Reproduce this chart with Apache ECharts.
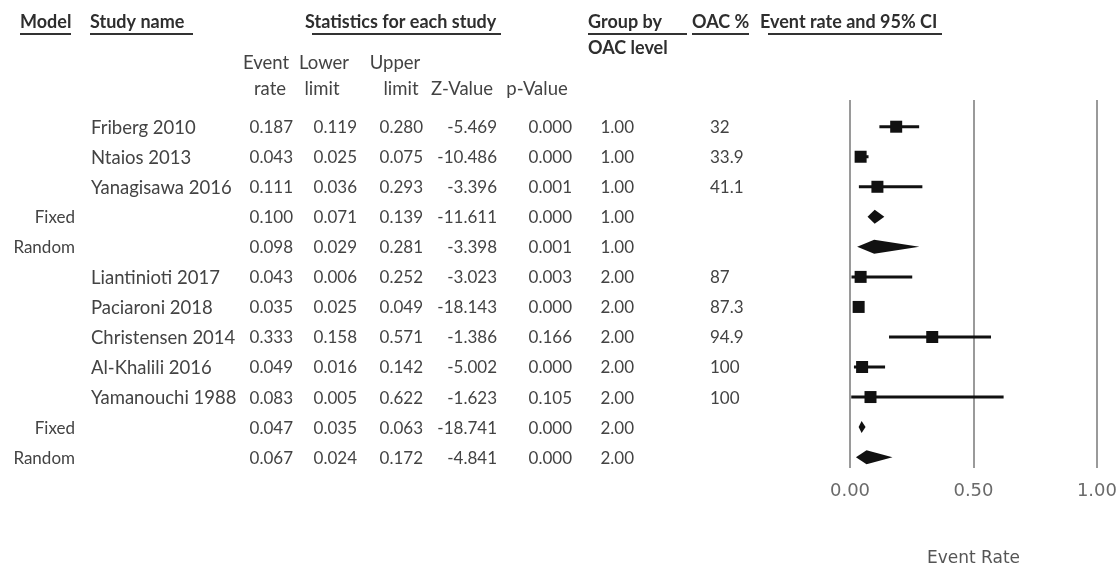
<!DOCTYPE html>
<html>
<head>
<meta charset="utf-8">
<script src="https://cdn.jsdelivr.net/npm/echarts@6/dist/echarts.min.js"></script>
<style>
html, body { margin: 0; padding: 0; background: #fff; }
#main { width: 1120px; height: 572px; }
</style>
</head>
<body>
<div id="main"></div>
<script>
// data
var models     = ['', '', '', 'Fixed', 'Random', '', '', '', '', '', 'Fixed', 'Random'];
var studies    = ['Friberg 2010', 'Ntaios 2013', 'Yanagisawa 2016', '', '', 'Liantinioti 2017', 'Paciaroni 2018',
                  'Christensen 2014', 'Al-Khalili 2016', 'Yamanouchi 1988', '', ''];
var eventRate  = [0.187, 0.043, 0.111, 0.100, 0.098, 0.043, 0.035, 0.333, 0.049, 0.083, 0.047, 0.067];
var lowerLimit = [0.119, 0.025, 0.036, 0.071, 0.029, 0.006, 0.025, 0.158, 0.016, 0.005, 0.035, 0.024];
var upperLimit = [0.280, 0.075, 0.293, 0.139, 0.281, 0.252, 0.049, 0.571, 0.142, 0.622, 0.063, 0.172];
var zValue     = [-5.469, -10.486, -3.396, -11.611, -3.398, -3.023, -18.143, -1.386, -5.002, -1.623, -18.741, -4.841];
var pValue     = [0.000, 0.000, 0.001, 0.000, 0.001, 0.003, 0.000, 0.166, 0.000, 0.105, 0.000, 0.000];
var oacLevel   = [1, 1, 1, 1, 1, 2, 2, 2, 2, 2, 2, 2];
var oacPct     = ['32', '33.9', '41.1', '', '', '87', '87.3', '94.9', '100', '100', '', ''];
var xTicks     = [0, 0.5, 1];

var FONT = 'Lato';
var TXT = '#434343';

// table columns: [x, align, font size]
var cols = {
  model: [75, 'right', 17], study: [91, 'left', 18.5], rate: [293, 'right', 17], lower: [357, 'right', 17],
  upper: [423, 'right', 17], z: [497, 'right', 17], p: [572, 'right', 17], group: [634, 'right', 17],
  oac: [710, 'left', 17]
};

var rows = [];
for (var i = 0; i < eventRate.length; i++) {
  rows.push([i, eventRate[i], lowerLimit[i], upperLimit[i]]);
}

function cell(col, text, y) {
  return {
    type: 'text',
    style: { x: cols[col][0], y: y, text: text, align: cols[col][1], verticalAlign: 'middle',
             font: cols[col][2] + 'px ' + FONT, fill: TXT }
  };
}

// header texts and underlines
var headers = [
  { t: 'Model', x: 20, y: 22, a: 'left', b: true, u: [20, 71] },
  { t: 'Study name', x: 90, y: 22, a: 'left', b: true, u: [90, 193] },
  { t: 'Statistics for each study', x: 305, y: 22, a: 'left', b: true, u: [312, 501] },
  { t: 'Group by', x: 588, y: 22, a: 'left', b: true, u: [588, 687] },
  { t: 'OAC level', x: 588, y: 48, a: 'left', b: true },
  { t: 'OAC %', x: 692, y: 22, a: 'left', b: true, u: [692, 749] },
  { t: 'Event rate and 95% CI', x: 760, y: 22, a: 'left', b: true, u: [768, 942] },
  { t: 'Event', x: 266, y: 63, a: 'center' },
  { t: 'Lower', x: 324, y: 63, a: 'center' },
  { t: 'Upper', x: 395, y: 63, a: 'center' },
  { t: 'rate', x: 270, y: 89, a: 'center' },
  { t: 'limit', x: 322, y: 89, a: 'center' },
  { t: 'limit', x: 401, y: 89, a: 'center' },
  { t: 'Z-Value', x: 462, y: 89, a: 'center' },
  { t: 'p-Value', x: 537, y: 89, a: 'center' }
];
var graphics = [];
headers.forEach(function (h) {
  graphics.push({
    type: 'text',
    style: { x: h.x, y: h.y, text: h.t, align: h.a, verticalAlign: 'middle',
             font: h.b ? 'bold 18px ' + FONT : '18.5px ' + FONT, fill: h.b ? '#2e2e2e' : TXT }
  });
  if (h.u) {
    graphics.push({ type: 'line', shape: { x1: h.u[0], y1: 34, x2: h.u[1], y2: 34 },
                    style: { stroke: '#333', lineWidth: 2 } });
  }
});

var chart = echarts.init(document.getElementById('main'));
chart.setOption({
  backgroundColor: '#fff',
  animation: false,
  graphic: graphics,
  grid: { left: 850, top: 100, width: 257, height: 372 },
  xAxis: {
    type: 'value', min: 0, max: 1, interval: 0.5,
    axisLine: { show: false }, axisTick: { show: false },
    splitLine: { show: true, lineStyle: { color: '#9a9a9a', width: 2 } },
    axisLabel: { margin: 14, color: '#6a6a6a', fontSize: 18, fontFamily: 'DejaVu Sans',
                 formatter: function (v) { return v.toFixed(2); } },
    name: 'Event Rate', nameLocation: 'middle', nameGap: 82,
    nameTextStyle: { color: '#555', fontSize: 17, fontFamily: 'DejaVu Sans' }
  },
  yAxis: {
    type: 'value', inverse: true, min: -0.889, max: 11.362, show: false
  },
  series: [
    {
      // table text, rows placed by the y axis
      type: 'custom', clip: false, silent: true,
      data: rows,
      renderItem: function (params, api) {
        var r = api.value(0);
        var y = api.coord([0, r])[1] + 1;
        return {
          type: 'group',
          children: [
            cell('model', models[r], y),
            cell('study', studies[r], y),
            cell('rate', eventRate[r].toFixed(3), y),
            cell('lower', lowerLimit[r].toFixed(3), y),
            cell('upper', upperLimit[r].toFixed(3), y),
            cell('z', zValue[r].toFixed(3), y),
            cell('p', pValue[r].toFixed(3), y),
            cell('group', oacLevel[r].toFixed(2), y),
            cell('oac', oacPct[r], y)
          ]
        };
      }
    },
    {
      // forest marks
      type: 'custom', clip: false, silent: true,
      data: rows,
      renderItem: function (params, api) {
        var r = api.value(0);
        var c = api.coord([api.value(1), r]);
        var lo = api.coord([api.value(2), r]);
        var hi = api.coord([api.value(3), r]);
        if (models[r]) {
          var h = models[r] === 'Fixed' && hi[0] - lo[0] < 12 ? 6 : 7;
          return {
            type: 'polygon',
            shape: { points: [[lo[0], c[1]], [c[0], c[1] - h], [hi[0], c[1]], [c[0], c[1] + h]] },
            style: { fill: '#111' }
          };
        }
        return {
          type: 'group',
          children: [
            { type: 'line', shape: { x1: lo[0], y1: c[1], x2: hi[0], y2: c[1] },
              style: { stroke: '#111', lineWidth: 3 } },
            { type: 'rect', shape: { x: c[0] - 6, y: c[1] - 6, width: 12, height: 12 },
              style: { fill: '#111' } }
          ]
        };
      }
    }
  ]
});
</script>
</body>
</html>
